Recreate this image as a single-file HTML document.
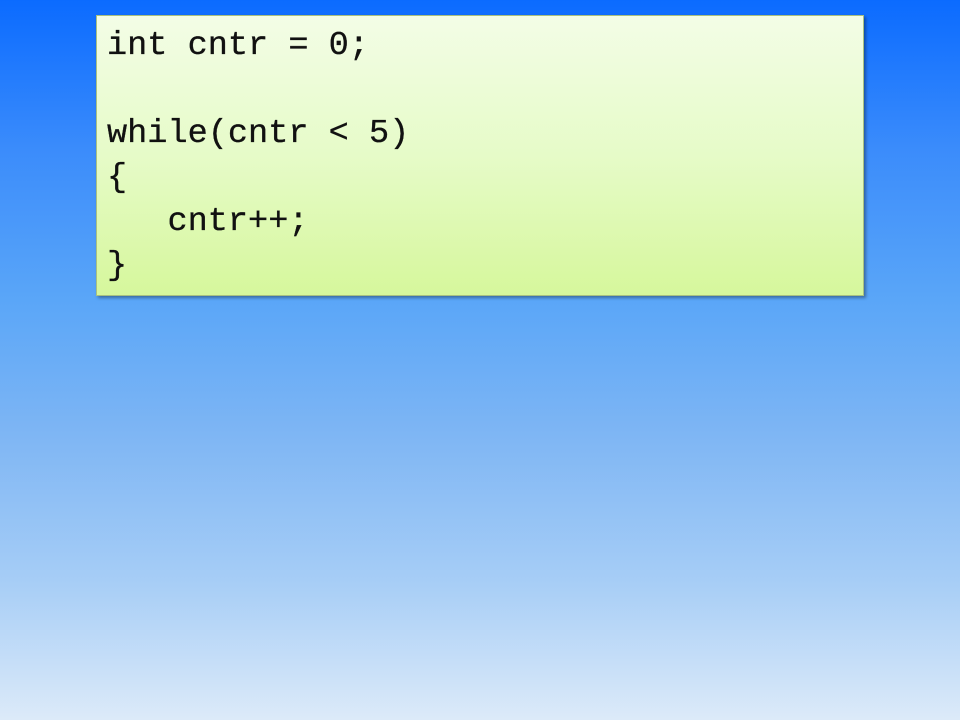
<!DOCTYPE html>
<html><head><meta charset="utf-8"><style>
html,body{margin:0;padding:0;}
body{width:960px;height:720px;overflow:hidden;position:relative;
background:linear-gradient(to bottom,#0b6bff 0px,#3b8cfb 150px,#5aa6f8 300px,#7db5f4 430px,#a6cdf6 580px,#dceaf9 720px);}
.box{position:absolute;left:96px;top:15px;width:766px;height:279px;
border:1px solid #a8c080;
background:linear-gradient(to bottom,#f3fde6 0%,#e6fbc8 50%,#d6f79c 100%);
box-shadow:2px 2px 3px rgba(0,0,0,0.35);}
pre{margin:0;position:absolute;left:10px;top:8px;
font-family:"Liberation Mono",monospace;font-size:33.6px;line-height:44px;color:#111;
-webkit-text-stroke:0.3px #111;}
</style></head><body>
<div class="box"><pre>int cntr = 0;

while(cntr &lt; 5)
{
   cntr++;
}</pre></div>
</body></html>
